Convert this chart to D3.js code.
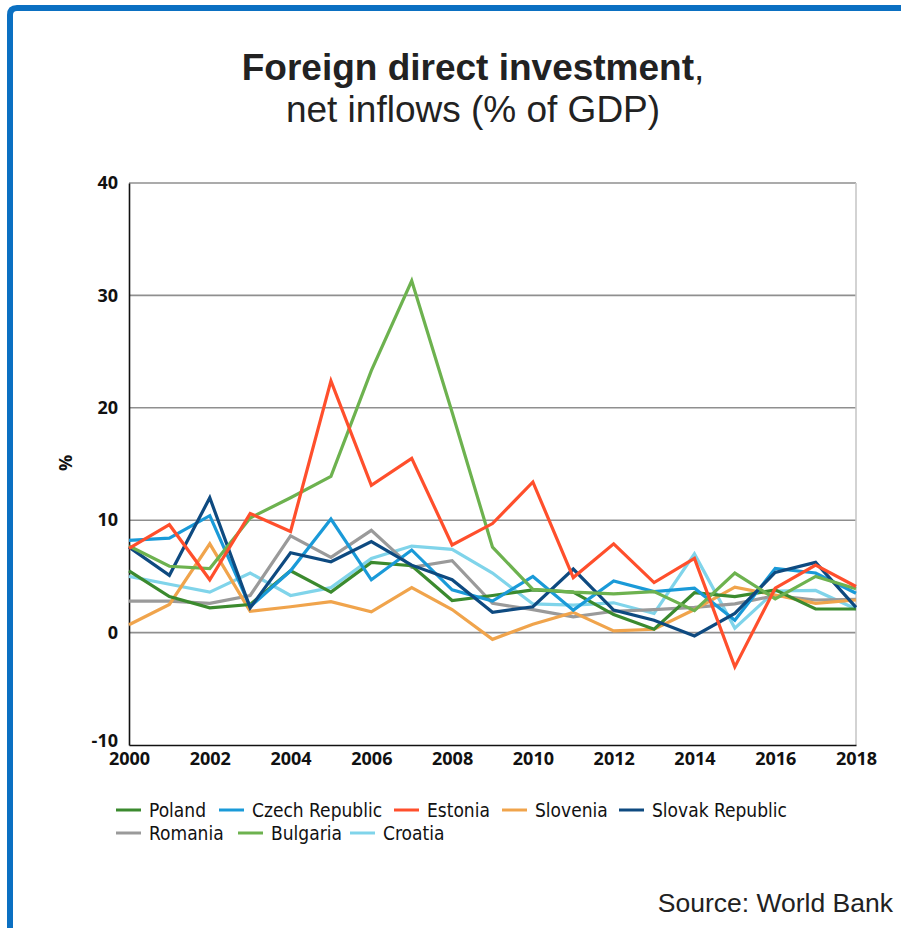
<!DOCTYPE html>
<html>
<head>
<meta charset="utf-8">
<script src="https://cdn.jsdelivr.net/npm/d3@7"></script>
<style>
  body { margin: 0; background: #fff; }
  svg { display: block; }
</style>
</head>
<body>
<script>
// years and FDI net inflows, % of GDP
var years = d3.range(2000, 2019);
var poland   = [5.5, 3.2, 2.2, 2.5, 5.5, 3.6, 6.25, 5.95, 2.85, 3.3, 3.8, 3.6, 1.6, 0.3, 3.55, 3.2, 3.8, 2.1, 2.1];
var czech    = [8.2, 8.4, 10.4, 2.3, 5.5, 10.1, 4.7, 7.35, 3.8, 2.8, 5.0, 2.0, 4.6, 3.65, 3.95, 1.1, 5.7, 5.3, 3.5];
var estonia  = [7.5, 9.6, 4.7, 10.6, 9.0, 22.4, 13.1, 15.5, 7.8, 9.7, 13.4, 4.9, 7.9, 4.45, 6.6, -3.05, 3.95, 6.0, 4.1];
var slovenia = [0.7, 2.5, 7.9, 1.9, 2.3, 2.75, 1.85, 4.0, 2.05, -0.6, 0.75, 1.8, 0.15, 0.3, 2.05, 4.05, 3.35, 2.6, 2.9];
var slovakia = [7.6, 5.1, 12.0, 2.2, 7.1, 6.3, 8.1, 6.0, 4.7, 1.8, 2.3, 5.65, 2.0, 1.1, -0.3, 1.7, 5.35, 6.25, 2.25];
var romania  = [2.8, 2.8, 2.6, 3.3, 8.6, 6.7, 9.1, 5.8, 6.4, 2.6, 2.05, 1.4, 1.9, 2.05, 2.25, 2.55, 3.3, 2.9, 2.95];
var bulgaria = [7.7, 5.9, 5.7, 10.2, 12.0, 13.9, 23.3, 31.3, 19.6, 7.6, 3.85, 3.6, 3.45, 3.65, 1.95, 5.3, 3.0, 5.0, 3.9];
var croatia  = [5.0, 4.3, 3.6, 5.3, 3.3, 4.0, 6.6, 7.7, 7.4, 5.3, 2.55, 2.45, 2.65, 1.7, 7.0, 0.4, 3.7, 3.75, 2.1];

var names  = ["Poland", "Czech Republic", "Estonia", "Slovenia", "Slovak Republic", "Romania", "Bulgaria", "Croatia"];
var colors = ["#3b8a2e", "#1a9ad8", "#ff4f2c", "#f0a44c", "#0e4a80", "#9a9a9a", "#6db24f", "#80d4ea"];
var values = [poland, czech, estonia, slovenia, slovakia, romania, bulgaria, croatia];
// drawing order (back to front) roughly as in the original
var drawOrder = [7, 5, 3, 0, 1, 4, 6, 2];

var yTicks = [-10, 0, 10, 20, 30, 40];
var xTicks = d3.range(2000, 2019, 2);

var W = 901, H = 928;
var margin = {top: 183, right: 45, bottom: 183, left: 129};
var width = W - margin.left - margin.right,
    height = 745 - margin.top;

var svg = d3.select("body").append("svg")
    .attr("width", W)
    .attr("height", H);

// blue frame, left and top
svg.append("path")
    .attr("d", "M10," + H + " V15 Q10,8 17,8 H" + W)
    .attr("fill", "none")
    .attr("stroke", "#0b70c2")
    .attr("stroke-width", 6);

// title
var title = svg.append("text")
    .attr("x", 473)
    .attr("y", 80)
    .attr("text-anchor", "middle")
    .style("font-family", "'Liberation Sans', Arial, sans-serif")
    .style("font-size", "37px")
    .style("fill", "#222");
title.append("tspan").style("font-weight", "bold").text("Foreign direct investment");
title.append("tspan").text(",");

svg.append("text")
    .attr("x", 473)
    .attr("y", 122)
    .attr("text-anchor", "middle")
    .style("font-family", "'Liberation Sans', Arial, sans-serif")
    .style("font-size", "37px")
    .style("fill", "#222")
    .text("net inflows (% of GDP)");

var g = svg.append("g")
    .attr("transform", "translate(" + margin.left + "," + margin.top + ")");

var x = d3.scaleLinear().domain([2000, 2018]).range([0, width]);
var y = d3.scaleLinear().domain([-10, 40]).range([height, 0]);

// gridlines
g.selectAll("line.grid")
    .data(yTicks.slice(1))
  .enter().append("line")
    .attr("class", "grid")
    .attr("x1", 0)
    .attr("x2", width)
    .attr("y1", function(d) { return y(d); })
    .attr("y2", function(d) { return y(d); })
    .attr("stroke", "#8f8f8f")
    .attr("stroke-width", 1.6);

// right border of plot
g.append("line")
    .attr("x1", width).attr("x2", width)
    .attr("y1", 0).attr("y2", height)
    .attr("stroke", "#c8c8c8")
    .attr("stroke-width", 1.6);

var tickFont = "'Open Sans', 'Noto Sans', sans-serif";

// y axis (plain hyphen for the minus, as in the original)
var yAxis = g.append("g")
    .call(d3.axisLeft(y).tickValues(yTicks).tickSize(0).tickPadding(11).tickFormat(function(d) { return String(d); }));
yAxis.select(".domain").attr("stroke", "#111").attr("stroke-width", 1.6);
yAxis.selectAll("text")
    .attr("dy", function(d) { return d === -10 ? "0.1em" : "0.32em"; })
    .style("font-family", tickFont)
    .style("font-weight", "bold")
    .style("font-size", "18px")
    .style("fill", "#111");

// x axis
var xAxis = g.append("g")
    .attr("transform", "translate(0," + height + ")")
    .call(d3.axisBottom(x).tickValues(xTicks).tickSize(0).tickPadding(7).tickFormat(d3.format("d")));
xAxis.select(".domain").attr("stroke", "#111").attr("stroke-width", 1.6);
xAxis.selectAll("text")
    .style("font-family", tickFont)
    .style("font-weight", "bold")
    .style("font-size", "18px")
    .style("fill", "#111");

// y axis title
svg.append("text")
    .attr("transform", "translate(72,463) rotate(-90)")
    .attr("text-anchor", "middle")
    .style("font-family", tickFont)
    .style("font-weight", "bold")
    .style("font-size", "18px")
    .style("fill", "#111")
    .text("%");

// lines
var line = d3.line()
    .x(function(d, i) { return x(years[i]); })
    .y(function(d) { return y(d); });

g.selectAll("path.series")
    .data(drawOrder)
  .enter().append("path")
    .attr("class", "series")
    .attr("d", function(k) { return line(values[k]); })
    .attr("fill", "none")
    .attr("stroke", function(k) { return colors[k]; })
    .attr("stroke-width", 3.2)
    .attr("stroke-linejoin", "miter");

// legend
var legendFont = "'Liberation Sans Narrow', 'DejaVu Sans Condensed', sans-serif";
var legendPos = [
  [116, 810], [219, 810], [394, 810], [502, 810], [619, 810],
  [116, 833], [238, 833], [350, 833]
];
var legend = svg.selectAll("g.legend")
    .data(names)
  .enter().append("g")
    .attr("class", "legend")
    .attr("transform", function(d, i) { return "translate(" + legendPos[i][0] + "," + legendPos[i][1] + ")"; });
legend.append("line")
    .attr("x1", 0).attr("x2", 25)
    .attr("y1", 0).attr("y2", 0)
    .attr("stroke", function(d, i) { return colors[i]; })
    .attr("stroke-width", 3);
legend.append("text")
    .attr("x", 33)
    .attr("dy", "0.35em")
    .style("font-family", legendFont)
    .style("font-size", "19px")
    .style("fill", "#111")
    .text(function(d) { return d; });

// source
svg.append("text")
    .attr("x", 893)
    .attr("y", 912)
    .attr("text-anchor", "end")
    .style("font-family", "'Liberation Sans', Arial, sans-serif")
    .style("font-size", "26.5px")
    .style("fill", "#222")
    .text("Source: World Bank");
</script>
</body>
</html>
